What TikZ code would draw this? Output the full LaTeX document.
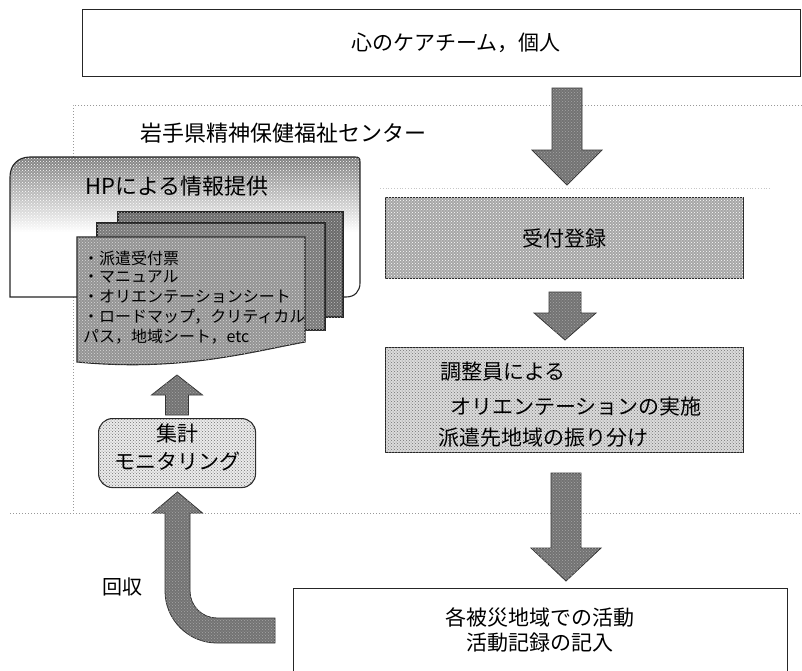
\documentclass[tikz,border=0pt]{standalone}
\usepackage{fontspec}
\setmainfont{Noto Sans CJK JP}
\usetikzlibrary{patterns,calc}
\newcommand\blockdn[5]{%
  \filldraw[blk] let \p1=(#1), \p2=(#2) in
    (\x1-#3,\y1) -- (\x1+#3,\y1) -- (\x1+#3,\y2+#5) -- (\x1+#4,\y2+#5) --
    (\x1,\y2) -- (\x1-#4,\y2+#5) -- (\x1-#3,\y2+#5) -- cycle;}
\newcommand\blockup[5]{%
  \filldraw[blk] let \p1=(#1), \p2=(#2) in
    (\x1-#3,\y1) -- (\x1+#3,\y1) -- (\x1+#3,\y2-#5) -- (\x1+#4,\y2-#5) --
    (\x1,\y2) -- (\x1-#4,\y2-#5) -- (\x1-#3,\y2-#5) -- cycle;}
\begin{document}
\begin{tikzpicture}[x=1pt,y=-1pt,
  boxline/.style={draw=black!85, line width=1.1pt},
  txt/.style={font=\fontsize{21}{24}\selectfont, inner sep=0pt},
  listtxt/.style={font=\fontsize{16}{20}\selectfont, inner sep=0pt, anchor=west},
  blk/.style={fill=black!55, draw=black!80, line width=0.8pt,
    postaction={pattern=crosshatch dots, pattern color=black!35}},
  regionline/.style={draw=black!40, dotted, line width=1pt},
  texture/.style={postaction={pattern=crosshatch dots, pattern color=#1}},
]
\useasboundingbox (0,0) rectangle (802,670);

% top box
\node[boxline, minimum width=718pt, minimum height=67pt, inner sep=0pt,
      anchor=north west] (top) at (82,9) {};
\node[txt] (toptxt) at (456,43) {心のケアチーム，個人};

% region frame
\draw[regionline] (802,105) -- (73,105) -- (73,513);
\draw[regionline] (10,513) -- (802,513);
\draw[draw=black!22, dotted, line width=0.8pt] (380,188) -- (770,188);
\node[txt, font=\fontsize{22}{24}\selectfont, anchor=west] (center) at (140,133)
  {岩手県精神保健福祉センター};

% HP box
\def\hppath{(10,297) -- (10,177) .. controls (10,165) and (18,157) .. (30,157)
  -- (355,157) .. controls (359,157) and (360,158) .. (360,162) -- (360,283)
  .. controls (360,291) and (355,297) .. (346,297) -- cycle}
\fill[white] \hppath;
\begin{scope}
  \clip \hppath;
  \shade[top color=black!55, bottom color=white] (10,150) rectangle (360,232);
  \fill[pattern=crosshatch dots, pattern color=white] (10,150) rectangle (360,232);
\end{scope}
\draw[boxline] \hppath;
\node[txt, font=\fontsize{22}{24}\selectfont, anchor=west] (hp) at (85,186) {HPによる情報提供};

% pages
\draw[boxline, fill=black!58, texture=black!25] (118,212) rectangle (343,317);
\draw[boxline, fill=black!52, texture=black!22] (97,223) rectangle (325,330);
\draw[boxline, fill=black!42, texture=black!15] (77,237) -- (305,237) -- (305,342)
  .. controls (250,352) and (180,372) .. (77,362) -- cycle;
\node[listtxt] (l1) at (83,258) {・派遣受付票};
\node[listtxt] (l2) at (83,277) {・マニュアル};
\node[listtxt] (l3) at (83,297) {・オリエンテーションシート};
\node[listtxt] (l4) at (83,317) {・ロードマップ，クリティカル};
\node[listtxt] (l5) at (83,337) {パス，地域シート，etc};

% right column
\node[boxline, txt, fill=black!35, texture=white, minimum width=358pt,
      minimum height=81pt, anchor=north west] (reg) at (385,197) {受付登録};
\node[boxline, fill=black!14, texture=black!55, minimum width=358pt,
      minimum height=105pt, anchor=north west, inner sep=0pt] (coord) at (385,347) {};
\node[txt, anchor=west] (c1) at (440,372) {調整員による};
\node[txt, anchor=west] (c2) at (450,407) {オリエンテーションの実施};
\node[txt, anchor=west] (c3) at (438,438) {派遣先地域の振り分け};

% bottom box
\node[boxline, minimum width=494pt, minimum height=100pt, inner sep=0pt,
      anchor=north west] (field) at (293,588) {};
\node[txt] (f1) at (540,617) {各被災地域での活動};
\node[txt] (f2) at (540,643) {活動記録の記入};

% aggregation box
\node[boxline, rounded corners=14pt, fill=black!8, texture=black!55,
      minimum width=157pt, minimum height=69pt, inner sep=0pt,
      anchor=north west] (agg) at (98,418) {};
\node[txt] (g1) at (177,433) {集計};
\node[txt] (g2) at (177,461) {モニタリング};

\node[txt, font=\fontsize{20}{22}\selectfont] (kaishu) at (122,587) {回収};

% arrows
\coordinate (a1s) at (567,88);  \coordinate (a1e) at (567,185);
\coordinate (a2s) at (565,292); \coordinate (a2e) at (565,340);
\coordinate (a3s) at (566,473); \coordinate (a3e) at (566,581);
\coordinate (a4s) at (177,415); \coordinate (a4e) at (177,375);
\blockdn{a1s}{a1e}{15pt}{35pt}{35pt}
\blockdn{a2s}{a2e}{16pt}{31pt}{27pt}
\blockdn{a3s}{a3e}{15pt}{35pt}{33pt}
\blockup{a4s}{a4e}{11.5pt}{25.5pt}{20pt}
\filldraw[blk] (165,513) -- (165,591) .. controls (165,619.7) and (188.3,643) .. (217,643)
  -- (275,643) -- (275,618) -- (217,618) .. controls (202.1,618) and (190,605.9) .. (190,591)
  -- (190,513) -- (202.5,513) -- (177.5,492) -- (152.5,513) -- cycle;
\end{tikzpicture}
\end{document}
